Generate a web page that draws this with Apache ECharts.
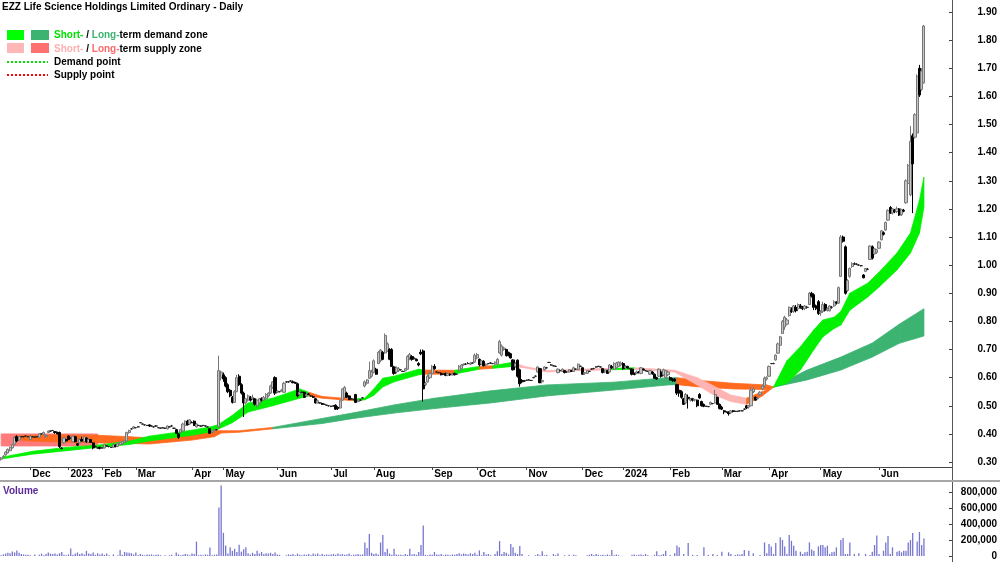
<!DOCTYPE html>
<html>
<head>
<meta charset="utf-8">
<title>EZZ Life Science Holdings Limited Ordinary - Daily</title>
<script src="https://cdn.jsdelivr.net/npm/echarts@6.0.0/dist/echarts.min.js"></script>
<style>
  html, body { margin: 0; padding: 0; background: #fff; }
  #chart { width: 1000px; height: 562px; }
</style>
</head>
<body>
<div id="chart"></div>
<script>
const FONT = '"Liberation Sans", Arial, sans-serif'

// month labels and the bar index where each one sits
const monthLabels = ['Dec', '2023', 'Feb', 'Mar', 'Apr', 'May', 'Jun', 'Jul', 'Aug', 'Sep', 'Oct', 'Nov', 'Dec', '2024', 'Feb', 'Mar', 'Apr', 'May', 'Jun']
const monthStarts = [13, 30, 45, 60, 85, 99, 123, 147, 166, 192, 212, 234, 259, 277, 298, 321, 342, 365, 391]
const totalSlots = 424 // trading days plus the empty room on the right

const priceTicks = { min: 0.3, max: 1.9, step: 0.1 }
const volumeTicks = { min: 0, max: 800000, step: 200000 }

// [open, close, low, high]
const candles = [
  [0.310,0.315,0.305,0.318],[0.318,0.320,0.315,0.325],[0.325,0.335,0.322,0.338],[0.332,0.345,0.330,0.348],[0.340,0.352,0.338,0.355],[0.350,0.362,0.348,0.365],[0.362,0.388,0.360,0.392],[0.390,0.375,0.370,0.395],[0.378,0.390,0.375,0.392],[0.390,0.390,0.388,0.392],
  [0.390,0.390,0.388,0.392],[0.392,0.392,0.390,0.394],[0.390,0.390,0.388,0.392],[0.380,0.392,0.378,0.394],[0.390,0.390,0.388,0.392],[0.388,0.388,0.386,0.390],[0.390,0.390,0.388,0.392],[0.388,0.400,0.386,0.402],[0.400,0.400,0.398,0.402],[0.398,0.405,0.396,0.408],
  [0.390,0.395,0.388,0.398],[0.405,0.410,0.403,0.412],[0.410,0.410,0.408,0.412],[0.412,0.412,0.410,0.414],[0.408,0.405,0.400,0.410],[0.405,0.400,0.398,0.408],[0.405,0.355,0.350,0.408],[0.350,0.348,0.345,0.352],[0.368,0.385,0.365,0.388],[0.380,0.375,0.372,0.382],
  [0.392,0.380,0.378,0.395],[0.385,0.385,0.383,0.388],[0.372,0.392,0.370,0.394],[0.390,0.372,0.370,0.392],[0.365,0.360,0.357,0.368],[0.368,0.380,0.365,0.385],[0.380,0.375,0.372,0.390],[0.372,0.390,0.370,0.392],[0.385,0.372,0.368,0.388],[0.370,0.380,0.368,0.385],
  [0.380,0.370,0.368,0.382],[0.368,0.350,0.345,0.370],[0.355,0.355,0.352,0.358],[0.350,0.350,0.348,0.352],[0.352,0.348,0.345,0.355],[0.350,0.350,0.348,0.352],[0.350,0.362,0.348,0.365],[0.358,0.358,0.355,0.360],[0.355,0.355,0.352,0.357],[0.352,0.352,0.350,0.354],
  [0.352,0.362,0.350,0.365],[0.360,0.355,0.352,0.362],[0.355,0.365,0.353,0.368],[0.362,0.370,0.360,0.372],[0.365,0.372,0.362,0.375],[0.370,0.375,0.368,0.378],[0.375,0.405,0.372,0.408],[0.405,0.412,0.400,0.415],[0.418,0.418,0.415,0.420],[0.420,0.425,0.418,0.428],
  [0.422,0.422,0.420,0.424],[0.425,0.425,0.423,0.427],[0.440,0.440,0.438,0.442],[0.435,0.435,0.433,0.437],[0.432,0.432,0.430,0.434],[0.430,0.430,0.428,0.432],[0.432,0.428,0.425,0.434],[0.428,0.428,0.426,0.430],[0.425,0.425,0.423,0.427],[0.428,0.428,0.426,0.430],
  [0.422,0.422,0.420,0.424],[0.420,0.420,0.418,0.422],[0.422,0.422,0.420,0.424],[0.420,0.420,0.418,0.422],[0.418,0.428,0.416,0.430],[0.425,0.425,0.423,0.427],[0.428,0.428,0.426,0.432],[0.420,0.420,0.418,0.422],[0.415,0.402,0.400,0.418],[0.400,0.388,0.382,0.402],
  [0.405,0.415,0.403,0.418],[0.410,0.435,0.408,0.440],[0.430,0.445,0.428,0.448],[0.445,0.432,0.430,0.450],[0.435,0.450,0.432,0.452],[0.440,0.440,0.438,0.445],[0.445,0.430,0.428,0.448],[0.425,0.435,0.422,0.438],[0.430,0.430,0.428,0.432],[0.428,0.428,0.425,0.430],
  [0.430,0.430,0.428,0.432],[0.428,0.428,0.426,0.430],[0.425,0.425,0.423,0.427],[0.418,0.402,0.400,0.420],[0.405,0.410,0.403,0.412],[0.412,0.415,0.410,0.418],[0.415,0.415,0.412,0.418],[0.425,0.625,0.420,0.678],[0.600,0.620,0.590,0.625],[0.610,0.595,0.585,0.618],
  [0.600,0.570,0.565,0.605],[0.575,0.550,0.545,0.580],[0.555,0.535,0.530,0.560],[0.530,0.512,0.508,0.535],[0.512,0.550,0.510,0.555],[0.550,0.600,0.548,0.610],[0.605,0.575,0.570,0.612],[0.575,0.545,0.540,0.580],[0.545,0.510,0.460,0.550],[0.510,0.525,0.505,0.528],
  [0.520,0.535,0.515,0.540],[0.530,0.520,0.515,0.535],[0.525,0.530,0.520,0.540],[0.525,0.505,0.500,0.528],[0.500,0.520,0.495,0.525],[0.510,0.525,0.505,0.528],[0.525,0.520,0.515,0.530],[0.520,0.530,0.518,0.535],[0.525,0.540,0.522,0.545],[0.535,0.545,0.530,0.548],
  [0.545,0.570,0.542,0.575],[0.565,0.585,0.560,0.588],[0.600,0.545,0.538,0.605],[0.548,0.552,0.545,0.555],[0.550,0.550,0.548,0.552],[0.552,0.555,0.550,0.560],[0.548,0.580,0.545,0.585],[0.585,0.585,0.582,0.588],[0.585,0.585,0.582,0.588],[0.588,0.588,0.585,0.590],
  [0.585,0.582,0.580,0.590],[0.582,0.580,0.578,0.585],[0.578,0.535,0.530,0.582],[0.540,0.548,0.535,0.550],[0.548,0.548,0.545,0.550],[0.548,0.530,0.528,0.550],[0.535,0.540,0.532,0.545],[0.542,0.540,0.538,0.545],[0.535,0.535,0.532,0.538],[0.532,0.530,0.528,0.535],
  [0.525,0.510,0.508,0.528],[0.510,0.518,0.508,0.522],[0.510,0.510,0.508,0.512],[0.508,0.505,0.503,0.510],[0.505,0.505,0.503,0.507],[0.502,0.502,0.500,0.504],[0.500,0.500,0.497,0.502],[0.498,0.498,0.495,0.500],[0.500,0.500,0.497,0.502],[0.502,0.488,0.485,0.505],
  [0.495,0.490,0.485,0.498],[0.492,0.518,0.490,0.520],[0.520,0.560,0.518,0.562],[0.530,0.565,0.526,0.570],[0.545,0.530,0.528,0.550],[0.535,0.522,0.520,0.538],[0.525,0.525,0.522,0.528],[0.522,0.522,0.520,0.525],[0.540,0.512,0.510,0.542],[0.515,0.520,0.512,0.522],
  [0.520,0.520,0.518,0.522],[0.528,0.528,0.525,0.530],[0.570,0.585,0.565,0.590],[0.580,0.592,0.575,0.595],[0.598,0.625,0.595,0.657],[0.605,0.620,0.600,0.628],[0.618,0.660,0.615,0.665],[0.630,0.612,0.610,0.635],[0.650,0.690,0.648,0.695],[0.660,0.698,0.655,0.702],
  [0.690,0.665,0.662,0.695],[0.688,0.750,0.685,0.757],[0.695,0.720,0.692,0.725],[0.700,0.665,0.662,0.705],[0.700,0.640,0.638,0.705],[0.638,0.615,0.610,0.642],[0.620,0.635,0.615,0.640],[0.625,0.632,0.620,0.638],[0.628,0.628,0.625,0.630],[0.622,0.622,0.620,0.625],
  [0.625,0.632,0.622,0.635],[0.630,0.675,0.628,0.680],[0.670,0.682,0.662,0.688],[0.675,0.665,0.660,0.680],[0.668,0.668,0.665,0.672],[0.665,0.660,0.658,0.668],[0.650,0.645,0.640,0.655],[0.690,0.685,0.680,0.700],[0.695,0.560,0.515,0.700],[0.575,0.580,0.570,0.585],
  [0.585,0.605,0.582,0.610],[0.600,0.615,0.595,0.620],[0.615,0.640,0.612,0.645],[0.640,0.632,0.628,0.648],[0.620,0.620,0.618,0.622],[0.618,0.618,0.615,0.620],[0.615,0.610,0.608,0.618],[0.612,0.612,0.610,0.615],[0.615,0.608,0.605,0.618],[0.608,0.615,0.605,0.618],
  [0.612,0.610,0.606,0.615],[0.610,0.615,0.608,0.618],[0.615,0.610,0.608,0.618],[0.612,0.612,0.610,0.615],[0.625,0.640,0.622,0.645],[0.632,0.645,0.630,0.648],[0.645,0.648,0.642,0.650],[0.648,0.648,0.645,0.652],[0.650,0.650,0.648,0.655],[0.648,0.652,0.645,0.655],
  [0.652,0.652,0.650,0.655],[0.655,0.680,0.652,0.686],[0.670,0.682,0.665,0.688],[0.665,0.645,0.640,0.668],[0.648,0.660,0.645,0.662],[0.658,0.642,0.640,0.662],[0.645,0.648,0.640,0.650],[0.650,0.650,0.648,0.652],[0.652,0.652,0.650,0.655],[0.650,0.650,0.648,0.652],
  [0.648,0.655,0.645,0.658],[0.648,0.665,0.645,0.670],[0.688,0.728,0.685,0.734],[0.680,0.712,0.675,0.718],[0.700,0.705,0.695,0.710],[0.700,0.678,0.675,0.702],[0.690,0.680,0.675,0.692],[0.685,0.670,0.668,0.688],[0.663,0.628,0.625,0.665],[0.640,0.650,0.635,0.655],
  [0.662,0.605,0.600,0.665],[0.628,0.578,0.568,0.632],[0.590,0.585,0.580,0.595],[0.588,0.588,0.585,0.592],[0.590,0.590,0.588,0.593],[0.592,0.592,0.590,0.595],[0.590,0.590,0.588,0.592],[0.600,0.600,0.598,0.603],[0.605,0.605,0.602,0.608],[0.620,0.638,0.618,0.640],
  [0.632,0.582,0.580,0.635],[0.585,0.590,0.580,0.595],[0.628,0.638,0.625,0.640],[0.635,0.635,0.632,0.638],[0.654,0.654,0.652,0.656],[0.645,0.645,0.643,0.648],[0.642,0.642,0.640,0.645],[0.640,0.640,0.638,0.643],[0.618,0.630,0.615,0.633],[0.625,0.625,0.622,0.628],
  [0.622,0.630,0.620,0.633],[0.625,0.618,0.615,0.627],[0.620,0.620,0.617,0.623],[0.620,0.628,0.618,0.630],[0.625,0.622,0.620,0.628],[0.622,0.635,0.620,0.639],[0.630,0.630,0.628,0.633],[0.628,0.648,0.626,0.650],[0.640,0.640,0.638,0.643],[0.635,0.612,0.610,0.638],
  [0.615,0.618,0.610,0.620],[0.615,0.625,0.613,0.627],[0.622,0.622,0.620,0.625],[0.630,0.630,0.628,0.633],[0.632,0.632,0.630,0.635],[0.638,0.638,0.636,0.640],[0.640,0.640,0.638,0.642],[0.638,0.638,0.636,0.640],[0.632,0.618,0.615,0.635],[0.620,0.628,0.616,0.630],
  [0.625,0.615,0.613,0.628],[0.620,0.645,0.618,0.648],[0.640,0.635,0.630,0.645],[0.630,0.650,0.628,0.655],[0.635,0.652,0.632,0.656],[0.640,0.655,0.638,0.658],[0.645,0.652,0.640,0.657],[0.650,0.632,0.628,0.655],[0.635,0.640,0.632,0.645],[0.640,0.635,0.632,0.642],
  [0.632,0.632,0.630,0.635],[0.630,0.612,0.608,0.633],[0.615,0.612,0.608,0.618],[0.615,0.620,0.612,0.625],[0.620,0.618,0.615,0.623],[0.615,0.635,0.612,0.638],[0.630,0.628,0.625,0.633],[0.625,0.625,0.622,0.627],[0.622,0.622,0.620,0.625],[0.612,0.625,0.610,0.628],
  [0.620,0.615,0.610,0.623],[0.612,0.598,0.595,0.615],[0.600,0.595,0.592,0.603],[0.605,0.630,0.603,0.633],[0.620,0.605,0.600,0.625],[0.610,0.628,0.605,0.632],[0.600,0.625,0.595,0.628],[0.610,0.620,0.605,0.625],[0.600,0.592,0.590,0.605],[0.595,0.590,0.585,0.598],
  [0.595,0.588,0.585,0.598],[0.575,0.545,0.538,0.578],[0.555,0.545,0.532,0.560],[0.550,0.530,0.525,0.555],[0.525,0.505,0.503,0.528],[0.510,0.540,0.505,0.545],[0.530,0.525,0.490,0.540],[0.520,0.525,0.515,0.528],[0.525,0.520,0.515,0.528],[0.520,0.522,0.515,0.525],
  [0.520,0.500,0.495,0.522],[0.540,0.528,0.525,0.545],[0.515,0.500,0.497,0.518],[0.505,0.498,0.495,0.508],[0.498,0.498,0.496,0.500],[0.497,0.497,0.495,0.499],[0.505,0.512,0.502,0.515],[0.508,0.508,0.505,0.510],[0.510,0.540,0.508,0.556],[0.530,0.505,0.503,0.532],
  [0.505,0.490,0.487,0.508],[0.495,0.488,0.485,0.500],[0.482,0.478,0.470,0.485],[0.478,0.478,0.475,0.480],[0.478,0.472,0.465,0.480],[0.475,0.482,0.470,0.485],[0.482,0.480,0.476,0.485],[0.480,0.480,0.478,0.482],[0.480,0.480,0.478,0.482],[0.482,0.482,0.480,0.485],
  [0.482,0.482,0.480,0.485],[0.488,0.488,0.485,0.490],[0.500,0.492,0.488,0.503],[0.495,0.500,0.490,0.503],[0.500,0.555,0.498,0.567],[0.550,0.560,0.545,0.565],[0.530,0.520,0.518,0.533],[0.525,0.528,0.522,0.530],[0.540,0.548,0.535,0.552],[0.560,0.570,0.555,0.575],
  [0.570,0.598,0.567,0.604],[0.595,0.600,0.590,0.605],[0.605,0.640,0.603,0.643],[0.650,0.650,0.648,0.652],[0.650,0.650,0.648,0.653],[0.663,0.680,0.660,0.683],[0.687,0.720,0.685,0.725],[0.715,0.745,0.712,0.748],[0.757,0.800,0.755,0.805],[0.780,0.815,0.770,0.820],
  [0.790,0.805,0.785,0.812],[0.820,0.850,0.817,0.853],[0.840,0.835,0.830,0.850],[0.835,0.855,0.830,0.858],[0.850,0.838,0.832,0.858],[0.845,0.860,0.840,0.864],[0.855,0.850,0.845,0.862],[0.848,0.845,0.840,0.855],[0.845,0.855,0.840,0.858],[0.850,0.850,0.845,0.855],
  [0.860,0.900,0.858,0.905],[0.900,0.890,0.885,0.905],[0.895,0.850,0.840,0.900],[0.855,0.845,0.840,0.860],[0.870,0.828,0.823,0.876],[0.830,0.835,0.820,0.840],[0.835,0.860,0.830,0.870],[0.860,0.840,0.835,0.865],[0.840,0.845,0.835,0.850],[0.838,0.855,0.835,0.858],
  [0.850,0.850,0.845,0.855],[0.855,0.870,0.852,0.875],[0.868,0.865,0.860,0.872],[0.865,0.920,0.862,0.924],[0.960,1.100,0.958,1.107],[1.100,1.085,1.080,1.105],[1.065,0.900,0.895,1.070],[0.910,0.945,0.905,0.950],[0.960,0.988,0.955,0.992],[0.995,1.005,0.990,1.010],
  [1.005,1.005,1.000,1.010],[1.003,1.003,1.000,1.007],[1.000,1.000,0.997,1.003],[0.998,0.998,0.995,1.000],[0.965,0.955,0.953,0.968],[0.978,0.988,0.975,0.990],[0.985,0.985,0.982,0.990],[1.020,1.068,1.018,1.070],[1.065,1.025,1.020,1.070],[1.040,1.058,1.038,1.060],
  [1.045,1.055,1.040,1.058],[1.060,1.082,1.058,1.085],[1.090,1.122,1.088,1.125],[1.115,1.110,1.105,1.120],[1.125,1.152,1.122,1.155],[1.160,1.195,1.158,1.198],[1.205,1.185,1.182,1.210],[1.185,1.200,1.180,1.203],[1.195,1.190,1.185,1.200],[1.190,1.200,1.185,1.208],
  [1.200,1.178,1.175,1.203],[1.180,1.198,1.175,1.200],[1.195,1.192,1.188,1.200],[1.222,1.300,1.218,1.305],[1.290,1.355,1.285,1.360],[1.250,1.440,1.245,1.495],[1.460,1.360,1.185,1.468],[1.455,1.535,1.450,1.540],[1.470,1.672,1.465,1.678],[1.700,1.605,1.598,1.712],
  [1.625,1.690,1.620,1.700],[1.648,1.850,1.645,1.854]
]

// daily volume, thousands of shares
const volumesK = [
  10,20,30,40,35,55,45,70,40,25,20,15,15,10,0,20,0,15,30,10,
  25,45,30,25,30,20,35,50,15,10,20,95,15,30,45,25,35,20,65,30,
  25,45,15,35,20,30,15,30,10,0,20,0,10,75,15,50,45,40,35,20,
  45,10,25,15,10,20,15,20,10,15,20,10,0,10,0,10,15,0,45,20,
  10,15,25,20,10,30,25,180,10,15,10,20,15,105,10,15,20,605,880,290,
  130,30,110,65,90,50,140,55,85,110,35,20,40,25,65,30,50,25,35,30,
  40,25,45,20,15,0,0,10,20,15,25,10,30,15,10,20,15,25,10,30,
  20,30,10,25,15,20,15,20,25,15,30,20,25,15,20,30,10,15,20,25,
  15,20,170,100,275,40,25,30,20,170,262,50,90,30,15,90,20,15,15,10,
  25,15,90,20,25,15,50,137,380,15,10,20,15,50,20,15,25,10,20,15,
  10,20,15,25,35,20,30,25,20,35,25,40,15,70,10,50,20,25,10,0,
  25,60,187,25,50,40,20,150,108,40,25,125,25,0,0,10,0,0,10,25,
  10,60,10,15,0,0,25,10,30,0,0,10,0,15,0,15,10,0,0,0,
  0,10,15,25,10,25,15,10,15,10,20,10,75,10,20,10,0,0,0,0,
  0,15,20,10,15,20,10,25,10,0,0,15,60,10,12,25,66,0,12,0,
  33,130,108,0,25,0,162,0,12,0,12,0,0,108,0,12,0,25,0,12,
  0,54,0,0,46,25,0,12,20,15,25,75,0,66,0,33,0,0,12,0,
  170,33,150,120,25,162,0,233,200,120,25,262,190,129,66,0,54,25,46,54,
  170,80,66,0,120,137,137,108,129,25,46,54,108,0,200,225,25,25,170,0,
  25,0,33,0,0,25,0,12,54,137,255,25,0,66,170,250,25,108,0,54,
  66,46,66,66,170,200,287,0,180,300,137,220
]

// zone bands: [bar index, lower, upper, colour of the stretch that starts here]
const earlyBand = [[0, 0.357, 0.400, 's'], [43, 0.357, 0.400, 's']]
const longBand = [
  [6, 0.385, 0.392, 'o'], [10, 0.376, 0.394, 'o'], [20, 0.372, 0.396, 'o'], [43, 0.368, 0.395, 'o'],
  [57, 0.366, 0.390, 'o'], [66, 0.364, 0.386, 'o'], [85, 0.378, 0.400, 'o'], [95, 0.390, 0.412, 'o'],
  [98, 0.403, 0.411, 'o'], [106, 0.406, 0.411, 'o'], [121, 0.418, 0.423, 'd'], [143, 0.437, 0.455, 'd'],
  [157, 0.455, 0.475, 'd'], [175, 0.474, 0.503, 'd'], [193, 0.490, 0.527, 'd'], [218, 0.510, 0.553, 'd'],
  [243, 0.535, 0.574, 'd'], [273, 0.556, 0.584, 'd'], [297, 0.574, 0.600, 'd'], [301, 0.575, 0.600, 'o'],
  [311, 0.567, 0.590, 'o'], [326, 0.560, 0.580, 'o'], [341, 0.558, 0.574, 'o'], [344, 0.566, 0.567, 'd'],
  [359, 0.592, 0.627, 'd'], [374, 0.627, 0.673, 'd'], [388, 0.673, 0.723, 'd'], [400, 0.722, 0.790, 'd'],
  [411, 0.748, 0.845, 'd']
]
const shortBand = [
  [1, 0.312, 0.318, 'g'], [14, 0.328, 0.338, 'g'], [29, 0.340, 0.352, 'g'], [43, 0.352, 0.360, 'g'],
  [57, 0.362, 0.374, 'g'], [66, 0.375, 0.392, 'g'], [85, 0.395, 0.413, 'g'], [94, 0.408, 0.426, 'g'],
  [97, 0.418, 0.434, 'g'], [103, 0.440, 0.466, 'g'], [110, 0.478, 0.510, 'g'], [121, 0.500, 0.527, 'g'],
  [133, 0.527, 0.560, 'g'], [137, 0.535, 0.548, 'o'], [143, 0.527, 0.533, 'o'], [157, 0.518, 0.524, 'g'],
  [162, 0.521, 0.527, 'g'], [166, 0.537, 0.560, 'g'], [170, 0.567, 0.598, 'g'], [175, 0.585, 0.605, 'g'],
  [186, 0.610, 0.630, 'g'], [188, 0.612, 0.627, 'o'], [202, 0.613, 0.626, 'g'], [213, 0.630, 0.640, 'o'],
  [219, 0.633, 0.642, 'g'], [228, 0.640, 0.655, 'p'], [233, 0.635, 0.640, 'p'], [243, 0.620, 0.625, 'p'],
  [258, 0.625, 0.630, 'p'], [272, 0.628, 0.633, 'g'], [282, 0.630, 0.635, 'p'], [300, 0.620, 0.626, 'p'],
  [310, 0.574, 0.600, 'p'], [317, 0.540, 0.572, 'p'], [325, 0.515, 0.538, 'p'], [332, 0.505, 0.527, 'o'],
  [339, 0.535, 0.550, 'o'], [344, 0.566, 0.567, 'g'], [350, 0.580, 0.660, 'g'], [356, 0.627, 0.710, 'g'],
  [362, 0.700, 0.770, 'g'], [366, 0.745, 0.805, 'g'], [371, 0.775, 0.815, 'g'], [374, 0.787, 0.835, 'g'],
  [378, 0.840, 0.900, 'g'], [386, 0.887, 0.936, 'g'], [391, 0.922, 0.975, 'g'], [399, 0.983, 1.043, 'g'],
  [405, 1.043, 1.114, 'g'], [409, 1.114, 1.230, 'g'], [411, 1.207, 1.313, 'g']
]

const zoneColors = { g: '#00f000', d: '#3cb371', o: '#ff6a1e', p: '#ffb4b4', s: '#ff7b7b' }

const cats = []
for (let i = 0; i < totalSlots; i++) cats.push(String(i))
const labelAt = {}
monthStarts.forEach((idx, k) => { labelAt[idx] = monthLabels[k] })
const isMonth = (index) => labelAt[index] !== undefined

function bandSeries (band) {
  return {
    type: 'custom',
    xAxisIndex: 0,
    yAxisIndex: 0,
    silent: true,
    data: band.map(d => [d[0], d[1], d[2]]),
    encode: { x: 0, y: [1, 2] },
    renderItem: function (params, api) {
      const k = params.dataIndex
      if (k >= band.length - 1) return null
      const a = band[k]
      const b = band[k + 1]
      const c = zoneColors[a[3]]
      return {
        type: 'polygon',
        shape: {
          points: [api.coord([a[0], a[1]]), api.coord([b[0], b[1]]), api.coord([b[0], b[2]]), api.coord([a[0], a[2]])]
        },
        style: { fill: c, stroke: c, lineWidth: 0.8 }
      }
    }
  }
}

const labelStyle = { fontFamily: FONT, fontSize: 10, fontWeight: 'bold', color: '#000' }

const legendText = (x, y, text, rich) => ({
  type: 'text', x: x, y: y, z: 100,
  style: { text: text, font: 'bold 10px ' + FONT, fill: '#000', verticalAlign: 'middle', rich: rich }
})

const chart = echarts.init(document.getElementById('chart'))
chart.setOption({
  animation: false,
  backgroundColor: '#fff',
  grid: [
    { left: 0, right: 48, top: 12, height: 450, outerBoundsMode: 'none' },
    { left: 0, right: 48, top: 492, height: 64, outerBoundsMode: 'none' }
  ],
  xAxis: [
    {
      type: 'category', gridIndex: 0, data: cats, boundaryGap: true, offset: 5,
      axisLine: { lineStyle: { color: '#444', width: 1 } },
      axisTick: { show: true, alignWithLabel: true, interval: isMonth, length: 3, lineStyle: { color: '#444' } },
      axisLabel: {
        ...labelStyle, interval: isMonth, align: 'left', margin: 2, padding: [0, 0, 0, 2],
        formatter: (v, idx) => labelAt[idx] || ''
      },
      splitLine: { show: false }
    },
    { type: 'category', gridIndex: 1, data: cats, boundaryGap: true, show: false }
  ],
  yAxis: [
    {
      type: 'value', gridIndex: 0, position: 'right',
      min: priceTicks.min, max: priceTicks.max, interval: priceTicks.step,
      axisLine: { show: false },
      axisTick: { show: true, inside: true, length: 3, lineStyle: { color: '#444' } },
      axisLabel: { ...labelStyle, align: 'right', margin: 45, formatter: v => v.toFixed(2) },
      splitLine: { show: false }
    },
    {
      type: 'value', gridIndex: 1, position: 'right',
      min: volumeTicks.min, max: volumeTicks.max, interval: volumeTicks.step,
      axisLine: { show: false },
      axisTick: { show: true, inside: true, length: 3, lineStyle: { color: '#444' } },
      axisLabel: { ...labelStyle, align: 'right', margin: 45, formatter: v => v.toLocaleString('en-US') },
      splitLine: { show: false }
    }
  ],
  series: [
    bandSeries(earlyBand),
    bandSeries(longBand),
    bandSeries(shortBand),
    {
      type: 'candlestick',
      xAxisIndex: 0,
      yAxisIndex: 0,
      data: candles,
      barWidth: 2.6,
      itemStyle: {
        color: '#c4c4c4', color0: '#000000',
        borderColor: '#777777', borderColor0: '#000000', borderColorDoji: '#222222',
        borderWidth: 1
      }
    },
    {
      type: 'bar',
      xAxisIndex: 1,
      yAxisIndex: 1,
      data: volumesK.map(v => v * 1000),
      barWidth: 1.3,
      clip: false,
      itemStyle: { color: '#7676cf' }
    }
  ],
  graphic: [
    { type: 'line', z: 100, shape: { x1: 952.5, y1: 0, x2: 952.5, y2: 562 }, style: { stroke: '#555', lineWidth: 1 } },
    { type: 'line', z: 100, shape: { x1: 0, y1: 481, x2: 1000, y2: 481 }, style: { stroke: '#a6a6a6', lineWidth: 2 } },
    legendText(2, 7, 'EZZ Life Science Holdings Limited Ordinary - Daily'),
    { type: 'rect', z: 100, shape: { x: 7, y: 30, width: 17, height: 10 }, style: { fill: '#00ff00' } },
    { type: 'rect', z: 100, shape: { x: 31, y: 30, width: 18, height: 10 }, style: { fill: '#3cb371' } },
    { type: 'rect', z: 100, shape: { x: 7, y: 43, width: 17, height: 10 }, style: { fill: '#ffb6b6' } },
    { type: 'rect', z: 100, shape: { x: 31, y: 43, width: 18, height: 10 }, style: { fill: '#ff7070' } },
    legendText(54, 35, '{a|Short-} / {b|Long-}term demand zone', {
      a: { fill: '#00e000', font: 'bold 10px ' + FONT },
      b: { fill: '#3cb371', font: 'bold 10px ' + FONT }
    }),
    legendText(54, 49, '{a|Short-} / {b|Long-}term supply zone', {
      a: { fill: '#ffb0b0', font: 'bold 10px ' + FONT },
      b: { fill: '#ff6a6a', font: 'bold 10px ' + FONT }
    }),
    { type: 'line', z: 100, shape: { x1: 7, y1: 62, x2: 48, y2: 62 }, style: { stroke: '#00e000', lineWidth: 2, lineDash: [2, 2] } },
    { type: 'line', z: 100, shape: { x1: 7, y1: 75, x2: 48, y2: 75 }, style: { stroke: '#ff0000', lineWidth: 2, lineDash: [2, 2] } },
    legendText(54, 62, 'Demand point'),
    legendText(54, 75, 'Supply point'),
    {
      type: 'text', x: 3, y: 491, z: 100,
      style: { text: 'Volume', font: 'bold 10px ' + FONT, fill: '#5b2a9b', verticalAlign: 'middle' }
    }
  ]
})
</script>
</body>
</html>
